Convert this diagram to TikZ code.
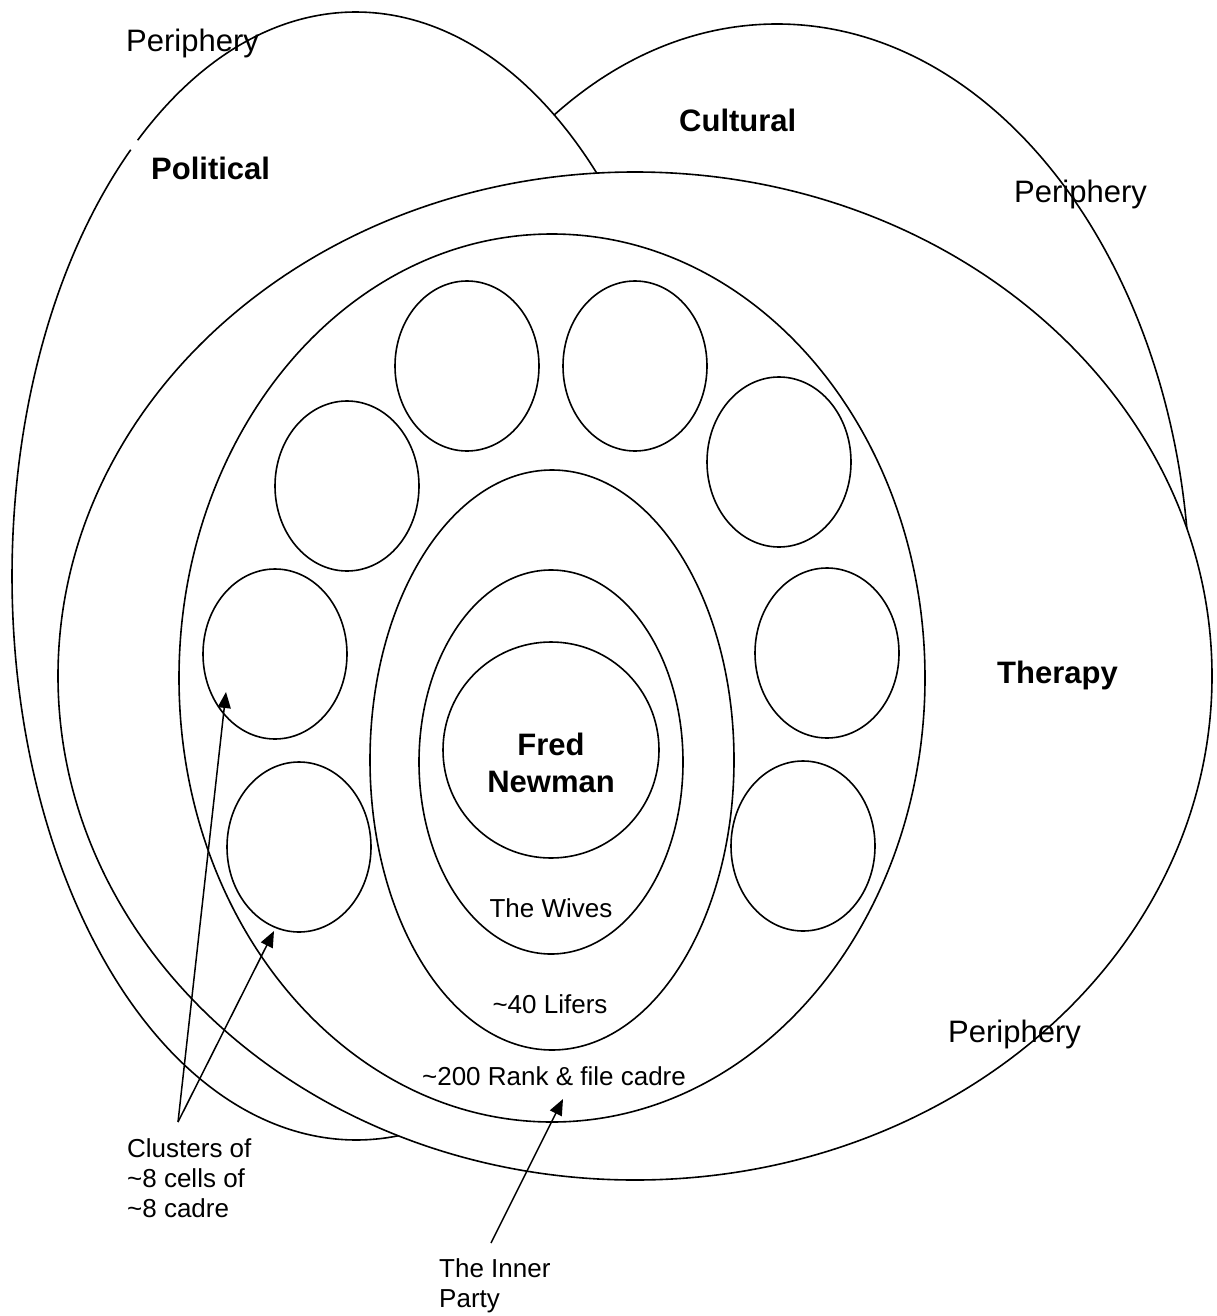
\documentclass[tikz,border=0pt]{standalone}
\usepackage{fontspec}
\setmainfont{Liberation Sans}
\usetikzlibrary{shapes.geometric,arrows.meta}
\begin{document}
\begin{tikzpicture}[x=1pt,y=-1pt,
  outline/.style={line width=1.6pt},
  ring/.style={draw, ellipse, line width=1.6pt, inner sep=0pt, outer sep=0pt, fill=white},
  cell/.style={ring, minimum width=144pt, minimum height=170pt},
  txt/.style={font=\fontsize{26}{30}\selectfont, inner sep=0pt},
  ptxt/.style={font=\fontsize{31}{36}\selectfont, inner sep=0pt},
  btxt/.style={font=\bfseries\fontsize{31}{37}\selectfont, inner sep=0pt},
  pointer/.style={line width=1.5pt, -{Triangle[length=16pt,width=13pt]}}]
\useasboundingbox (0,0) rectangle (1216,1316);
\fill[white] (0,0) rectangle (1216,1316);

% outer sphere: cultural (only its upper part shows above the therapy sphere)
\begin{scope}
  \clip (0,0) rectangle (1216,560);
  \filldraw[outline, fill=white] (777,600) ellipse [x radius=413, y radius=576];
\end{scope}
% outer sphere: political (drawn over cultural, with a small break at upper left)
\fill[white] (356,576) ellipse [x radius=344, y radius=564];
\draw[outline] (356,576) ++(230.6:344 and 564)
  arc [start angle=230.6, end angle=589.1, x radius=344, y radius=564];

% therapy sphere and the inner rings
\node[ring, minimum width=1154pt, minimum height=1008pt] (therapy) at (635,676) {};
\node[ring, minimum width=746pt, minimum height=888pt] (rank) at (552,678) {};

% cells of cadre
\node[cell] (cellA) at (467,366) {};
\node[cell] (cellB) at (635,366) {};
\node[cell] (cellC) at (779,462) {};
\node[cell] (cellD) at (347,486) {};
\node[cell] (cellE) at (275,654) {};
\node[cell] (cellF) at (299,847) {};
\node[cell] (cellG) at (827,653) {};
\node[cell] (cellH) at (803,846) {};

\node[ring, minimum width=364pt, minimum height=580pt] (lifers) at (552,760) {};
\node[ring, minimum width=264pt, minimum height=384pt] (wives) at (551,762) {};
\node[ring, minimum width=216pt, minimum height=216pt] (fred) at (551,750) {};

% labels
\node[ptxt, anchor=base west] (perTL) at (126,52) {Periphery};
\node[btxt, anchor=base west] (polTxt) at (151,180) {Political};
\node[btxt, anchor=base west] (culTxt) at (679,132) {Cultural};
\node[ptxt, anchor=base west] (perTR) at (1014,202) {Periphery};
\node[btxt, anchor=base west] (thrTxt) at (997,683) {Therapy};
\node[ptxt, anchor=base west] (perBR) at (948,1042) {Periphery};
\node[btxt, align=center] (fredTxt) at (551,763) {Fred\\Newman};
\node[txt, anchor=base] (wivesTxt) at (551,917) {The Wives};
\node[txt, anchor=base] (lifTxt) at (550,1013) {\textasciitilde 40 Lifers};
\node[txt, anchor=base] (rankTxt) at (554,1085) {\textasciitilde 200 Rank \& file cadre};
\node[txt, anchor=north west, align=left] (clusTxt) at (127,1138)
  {Clusters of\\\textasciitilde 8 cells of\\\textasciitilde 8 cadre};
\node[txt, anchor=north west, align=left] (innerTxt) at (439,1258)
  {The Inner\\Party};

% pointers
\coordinate (clusApex) at (178,1122);
\coordinate (tipE) at (226,692);
\coordinate (tipF) at (274,931);
\coordinate (innerStart) at (491,1243);
\coordinate (tipRank) at (563,1099);
\draw[pointer] (clusApex) -- (tipE);
\draw[pointer] (clusApex) -- (tipF);
\draw[pointer] (innerStart) -- (tipRank);
\end{tikzpicture}
\end{document}
